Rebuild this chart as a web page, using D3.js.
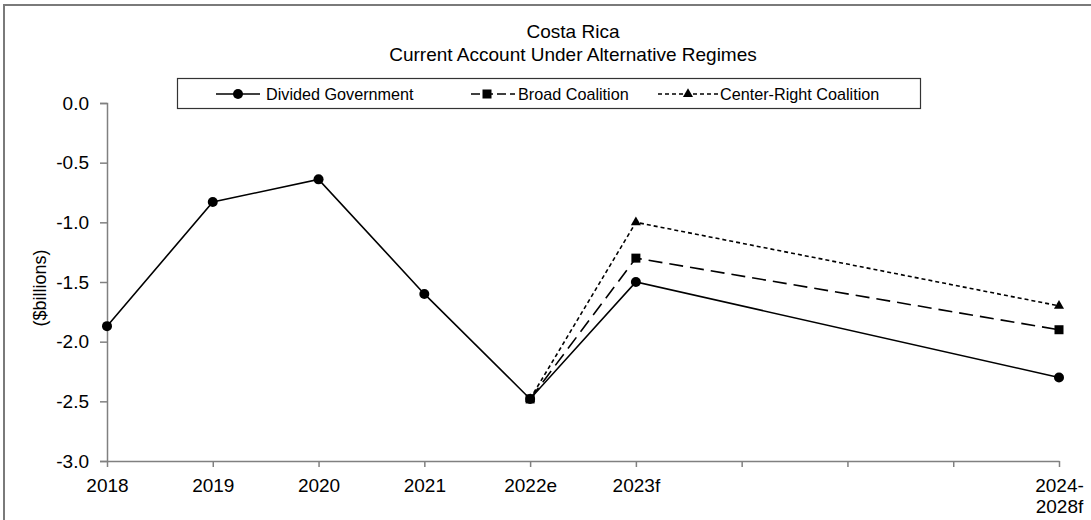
<!DOCTYPE html>
<html>
<head>
<meta charset="utf-8">
<script src="https://cdn.jsdelivr.net/npm/d3@7"></script>
<style>
  html, body { margin: 0; padding: 0; background: #fff; }
  svg { display: block; font-family: "Liberation Sans", Arial, sans-serif; }
</style>
</head>
<body>
<svg id="chart" width="1091" height="520"></svg>
<script>
// Period categories along the x axis (blank slots keep the spacing of the final period)
const categories = ["2018", "2019", "2020", "2021", "2022e", "2023f", "gap1", "gap2", "gap3", "2024-2028f"];
const tickLabels = ["2018", "2019", "2020", "2021", "2022e", "2023f", "", "", "", "2024-\n2028f"];

// Current account, $ billions
const dividedPeriods = ["2018", "2019", "2020", "2021", "2022e", "2023f", "2024-2028f"];
const dividedValues  = [-1.87, -0.83, -0.64, -1.60, -2.48, -1.50, -2.30];

const broadPeriods = ["2022e", "2023f", "2024-2028f"];
const broadValues  = [-2.48, -1.30, -1.90];

const centerRightPeriods = ["2022e", "2023f", "2024-2028f"];
const centerRightValues  = [-2.48, -1.00, -1.70];

const yTicks = [0, -0.5, -1, -1.5, -2, -2.5, -3];

const svg = d3.select("#chart");
const W = 1091, H = 520;

// outer frame
svg.append("rect")
  .attr("x", 4).attr("y", 5)
  .attr("width", W + 10).attr("height", H + 10)
  .attr("fill", "none").attr("stroke", "#7a7a7a").attr("stroke-width", 2);

const x = d3.scalePoint().domain(categories).range([107, 1059]).padding(0);
const y = d3.scaleLinear().domain([-3, 0]).range([461, 103]);

const axisColor = "#808080";
const tickFont = 19;

// y axis
const yAxis = svg.append("g")
  .attr("transform", `translate(${x(categories[0])},0)`)
  .call(d3.axisLeft(y).tickValues(yTicks).tickSize(7).tickPadding(11));
yAxis.select(".domain").attr("stroke", axisColor).attr("stroke-width", 1.5);
yAxis.selectAll(".tick line").attr("stroke", axisColor).attr("stroke-width", 1.5);
yAxis.selectAll(".tick text")
  .attr("fill", "#000").attr("font-size", tickFont)
  .attr("font-family", "Liberation Sans, Arial, sans-serif")
  .text(d => d === 0 ? "0.0" : d3.format(".1f")(d).replace("−", "-"));

// x axis
const xAxis = svg.append("g")
  .attr("transform", `translate(0,${y(-3)})`)
  .call(d3.axisBottom(x).tickSize(6).tickSizeOuter(0).tickFormat(() => ""));
xAxis.select(".domain").attr("stroke", axisColor).attr("stroke-width", 1.5);
xAxis.selectAll(".tick line").attr("stroke", axisColor).attr("stroke-width", 1.5);
xAxis.selectAll(".tick").each(function(d, i) {
  const lines = tickLabels[i].split("\n");
  const t = d3.select(this).append("text")
    .attr("fill", "#000").attr("font-size", tickFont)
    .attr("font-family", "Liberation Sans, Arial, sans-serif")
    .attr("text-anchor", "middle");
  lines.forEach((ln, k) => {
    t.append("tspan").attr("x", 0).attr("y", 31 + k * 21).text(ln);
  });
});

// y axis title
svg.append("text")
  .attr("transform", `translate(46,${(y(0) + y(-3)) / 2 + 6}) rotate(-90)`)
  .attr("text-anchor", "middle")
  .attr("font-size", 18)
  .text("($billions)");

// chart title
svg.append("text").attr("x", 573).attr("y", 38).attr("text-anchor", "middle")
  .attr("font-size", 19).text("Costa Rica");
svg.append("text").attr("x", 573).attr("y", 61).attr("text-anchor", "middle")
  .attr("font-size", 19).text("Current Account Under Alternative Regimes");

const series = [
  { name: "Divided Government", periods: dividedPeriods, values: dividedValues, dash: null, marker: "circle" },
  { name: "Broad Coalition", periods: broadPeriods, values: broadValues, dash: "14,7", marker: "square" },
  { name: "Center-Right Coalition", periods: centerRightPeriods, values: centerRightValues, dash: "4,3", marker: "triangle" }
];

const line = d3.line().x(d => x(d.p)).y(d => y(d.v));

function drawMarker(g, type, cx, cy) {
  if (type === "circle") {
    g.append("circle").attr("cx", cx).attr("cy", cy).attr("r", 5).attr("fill", "#000");
  } else if (type === "square") {
    g.append("rect").attr("x", cx - 4.5).attr("y", cy - 4.5).attr("width", 9).attr("height", 9).attr("fill", "#000");
  } else {
    g.append("path")
      .attr("d", d3.symbol().type(d3.symbolTriangle).size(44)())
      .attr("transform", `translate(${cx},${cy})`).attr("fill", "#000");
  }
}

// draw series: later series first so the solid line sits on top
[...series].reverse().forEach(s => {
  const pts = s.periods.map((p, i) => ({ p, v: s.values[i] }));
  const g = svg.append("g");
  g.append("path").datum(pts)
    .attr("d", line)
    .attr("fill", "none").attr("stroke", "#000").attr("stroke-width", 1.6)
    .attr("stroke-dasharray", s.dash);
  pts.forEach(d => drawMarker(g, s.marker, x(d.p), y(d.v)));
});

// legend
const legend = svg.append("g");
legend.append("rect")
  .attr("x", 177.5).attr("y", 78.5).attr("width", 743).attr("height", 30)
  .attr("fill", "#fff").attr("stroke", "#333").attr("stroke-width", 1.2);

const legendItems = [
  { s: series[0], x0: 216, x1: 260, mx: 238, dash: null, tx: 266 },
  { s: series[1], x0: 471, x1: 515, mx: 487, dash: "9,4", tx: 518 },
  { s: series[2], x0: 658, x1: 718, mx: 688, dash: "4,3", tx: 720 }
];
legendItems.forEach(it => {
  const ly = 94;
  legend.append("line")
    .attr("x1", it.x0).attr("x2", it.x1).attr("y1", ly).attr("y2", ly)
    .attr("stroke", "#000").attr("stroke-width", 1.6)
    .attr("stroke-dasharray", it.dash);
  drawMarker(legend, it.s.marker, it.mx, ly);
  legend.append("text")
    .attr("x", it.tx).attr("y", ly + 6)
    .attr("font-size", 16.2)
    .text(it.s.name);
});
</script>
</body>
</html>
